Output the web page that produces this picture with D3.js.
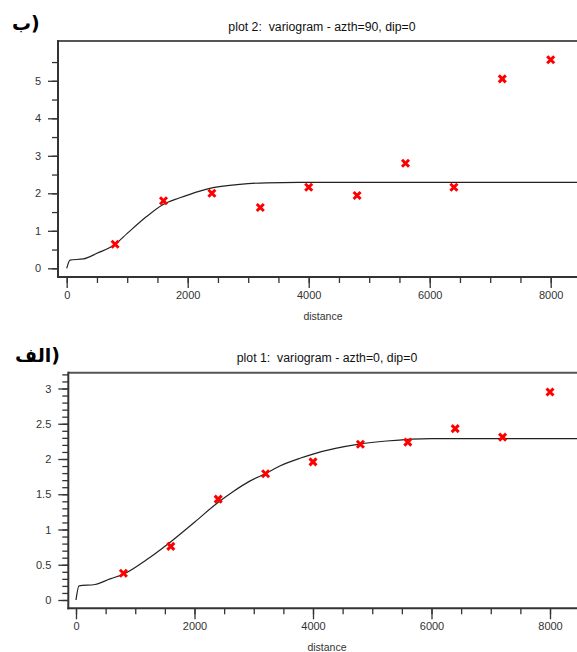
<!DOCTYPE html>
<html>
<head>
<meta charset="utf-8">
<script src="https://cdn.jsdelivr.net/npm/d3@7"></script>
<style>
body { margin: 0; background: #fff; }
svg { display: block; font-family: "Liberation Sans", Arial, sans-serif; }
text { white-space: pre; }
</style>
</head>
<body>
<div id="chart"></div>
<script>
// lag distances (same for both plots)
var lags = [800, 1600, 2400, 3200, 4000, 4800, 5600, 6400, 7200, 8000];

// plot 2 : azth=90
var exp90 = [0.64, 1.80, 2.00, 1.62, 2.16, 1.94, 2.80, 2.16, 5.05, 5.56];
var model90_h = [0, 55, 275, 500, 800, 1000, 1320, 1580, 1870, 2200, 2420, 2860, 3300, 4000, 6000, 8500];
var model90_g = [0, 0.22, 0.25, 0.40, 0.64, 0.93, 1.38, 1.69, 1.88, 2.06, 2.15, 2.24, 2.28, 2.29, 2.29, 2.29];

// plot 1 : azth=0
var exp0 = [0.38, 0.76, 1.43, 1.79, 1.96, 2.21, 2.24, 2.43, 2.31, 2.95];
var model0_h = [0, 50, 320, 575, 800, 1190, 1530, 2010, 2375, 2655, 2940, 3190, 3440, 3780, 4000, 4780, 5240, 6000, 8500];
var model0_g = [0, 0.20, 0.22, 0.30, 0.365, 0.57, 0.78, 1.11, 1.37, 1.54, 1.69, 1.79, 1.90, 2.01, 2.07, 2.21, 2.255, 2.29, 2.29];

var xMajor = [0, 2000, 4000, 6000, 8000];
var xMinor = d3.range(0, 8001, 500);

var W = 577, H = 652;
var svg = d3.select("#chart").append("svg").attr("width", W).attr("height", H);

function drawPanel(p) {
	var g = svg.append("g");
	var x = d3.scaleLinear().domain([0, 8000]).range([p.x0, p.x8000]);
	var y = d3.scaleLinear().domain([0, p.yMax]).range([p.y0, p.yTop]);

	// frame top line
	g.append("line").attr("x1", p.left).attr("x2", W).attr("y1", p.top).attr("y2", p.top)
		.attr("stroke", "#555").attr("stroke-width", 2);

	// y axis
	var yMinorAxis = d3.axisLeft(y).tickValues(p.yMinor).tickSize(6).tickFormat("");
	var yAxis = d3.axisLeft(y).tickValues(p.yMajor).tickSize(10).tickPadding(7)
		.tickFormat(function(d) { return d3.format("~g")(d); });
	var ga = g.append("g").attr("transform", "translate(" + p.left + ",0)");
	ga.call(yMinorAxis);
	ga.append("g").call(yAxis);
	ga.selectAll(".domain").remove();
	g.append("line").attr("x1", p.left).attr("x2", p.left).attr("y1", p.top - 1).attr("y2", p.bottom + 1)
		.attr("stroke", "#333").attr("stroke-width", 2);

	// x axis
	var xMinorAxis = d3.axisBottom(x).tickValues(xMinor).tickSize(6).tickFormat("");
	var xAxis = d3.axisBottom(x).tickValues(xMajor).tickSize(11).tickPadding(3).tickFormat(d3.format("d"));
	var gx = g.append("g").attr("transform", "translate(0," + p.bottom + ")");
	gx.call(xMinorAxis);
	gx.append("g").call(xAxis);
	gx.selectAll(".domain").remove();
	g.append("line").attr("x1", p.left - 1).attr("x2", W).attr("y1", p.bottom).attr("y2", p.bottom)
		.attr("stroke", "#333").attr("stroke-width", 2);

	g.selectAll(".tick line").attr("stroke", "#333").attr("stroke-width", 1.3);
	g.selectAll(".tick text").attr("fill", "#333").style("font-size", "11px").style("font-family", "Liberation Sans, Arial, sans-serif");

	// titles
	g.append("text").attr("x", p.titleX).attr("y", p.titleY).attr("text-anchor", "middle")
		.style("font-size", "12.3px").attr("fill", "#111").text(p.title);
	g.append("text").attr("x", p.distX).attr("y", p.distY).attr("text-anchor", "middle")
		.style("font-size", "10.5px").attr("fill", "#333").text("distance");
	g.append("text").attr("x", p.labX).attr("y", p.labY).attr("direction", "ltr")
		.style("font-size", "19px").style("font-weight", "bold").style("font-family", "DejaVu Sans, Noto Sans, sans-serif")
		.attr("fill", "#000").text(p.label);

	// model curve
	var line = d3.line()
		.x(function(d, i) { return x(p.mh[i]); })
		.y(function(d) { return y(d); })
		.curve(d3.curveMonotoneX);
	g.append("path").datum(p.mg).attr("d", line)
		.attr("fill", "none").attr("stroke", "#222").attr("stroke-width", 1.2);

	// experimental points
	g.selectAll(".pt").data(p.vals).enter().append("path")
		.attr("class", "pt")
		.attr("transform", function(d, i) { return "translate(" + x(lags[i]) + "," + y(d) + ")"; })
		.attr("d", "M-3.5,-3.5L3.5,3.5M3.5,-3.5L-3.5,3.5")
		.attr("stroke", "#ff0000").attr("stroke-width", 3).attr("fill", "none");
}

drawPanel({
	top: 41, bottom: 277, left: 58,
	x0: 66.7, x8000: 550.7, y0: 268.3, yTop: 80.8, yMax: 5,
	yMajor: [0, 1, 2, 3, 4, 5], yMinor: d3.range(0, 6, 0.5),
	title: "plot 2:  variogram - azth=90, dip=0", titleX: 322, titleY: 31,
	distX: 323, distY: 320, label: "ب)", labX: 12, labY: 30,
	mh: model90_h, mg: model90_g, vals: exp90
});

drawPanel({
	top: 372.7, bottom: 608.3, left: 68.3,
	x0: 76, x8000: 550, y0: 600, yTop: 388.5, yMax: 3,
	yMajor: [0, 0.5, 1, 1.5, 2, 2.5, 3], yMinor: d3.range(0, 3.21, 0.1),
	title: "plot 1:  variogram - azth=0, dip=0", titleX: 327, titleY: 362,
	distX: 327, distY: 651, label: "الف)", labX: 15, labY: 362,
	mh: model0_h, mg: model0_g, vals: exp0
});
</script>
</body>
</html>
